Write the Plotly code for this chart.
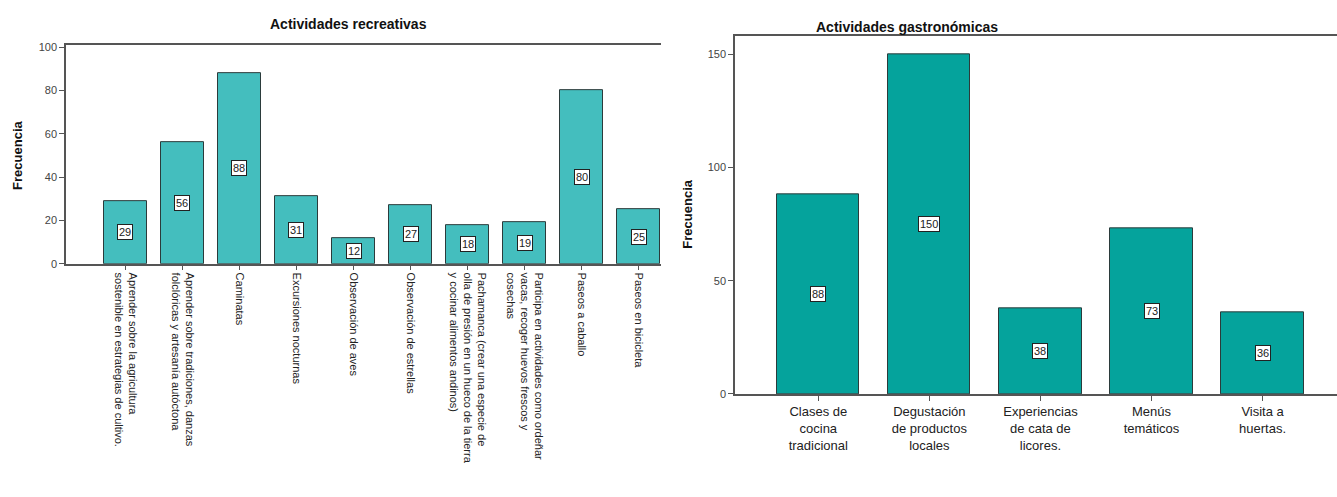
import plotly.graph_objects as go

W, H = 1337, 497

# Actividades recreativas
rec_labels = [
    "Aprender sobre la agricultura<br>sostenible en estrategias de cultivo.",
    "Aprender sobre tradiciones, danzas<br>folclóricas y artesanía autóctona",
    "Caminatas",
    "Excursiones nocturnas",
    "Observación de aves",
    "Observación de estrellas",
    "Pachamanca (crear una especie de<br>olla de presión en un hueco de la tierra<br>y cocinar alimentos andinos)",
    "Participa en actividades como ordeñar<br>vacas, recoger huevos frescos y<br>cosechas",
    "Paseos a caballo",
    "Paseos en bicicleta",
]
rec_values = [29, 56, 88, 31, 12, 27, 18, 19, 80, 25]

# Actividades gastronómicas
gas_labels = [
    "Clases de<br>cocina<br>tradicional",
    "Degustación<br>de productos<br>locales",
    "Experiencias<br>de cata de<br>licores.",
    "Menús<br>temáticos",
    "Visita a<br>huertas.",
]
gas_values = [88, 150, 38, 73, 36]


def px_x(p):
    return p / W


def px_y(p):
    return 1 - p / H


FONT = "Liberation Sans, Arial, sans-serif"
AX = "#555555"

fig = go.Figure()
fig.add_trace(go.Bar(
    x=list(range(len(rec_values))), y=rec_values, width=0.75,
    marker=dict(color="#44BEBE", line=dict(color="#2b3b3b", width=1)),
    xaxis="x", yaxis="y", showlegend=False, hoverinfo="skip",
))
fig.add_trace(go.Bar(
    x=list(range(len(gas_values))), y=gas_values, width=0.74,
    marker=dict(color="#05A39C", line=dict(color="#2b3b3b", width=1)),
    xaxis="x2", yaxis="y2", showlegend=False, hoverinfo="skip",
))

annotations = []
for i, v in enumerate(rec_values):
    annotations.append(dict(
        x=i, y=v / 2, xref="x", yref="y", text=str(v), showarrow=False,
        font=dict(family=FONT, size=11, color="#222"),
        bgcolor="white", bordercolor="#222", borderwidth=1, borderpad=1,
    ))
for i, v in enumerate(gas_values):
    annotations.append(dict(
        x=i, y=v / 2, xref="x2", yref="y2", text=str(v), showarrow=False,
        font=dict(family=FONT, size=11, color="#222"),
        bgcolor="white", bordercolor="#222", borderwidth=1, borderpad=1,
    ))

annotations += [
    dict(x=px_x(348), y=px_y(20), xref="paper", yref="paper",
         xanchor="center", yanchor="middle",
         text="<b>Actividades recreativas</b>", showarrow=False,
         font=dict(family=FONT, size=14, color="#111")),
    dict(x=px_x(907), y=px_y(23), xref="paper", yref="paper",
         xanchor="center", yanchor="middle",
         text="<b>Actividades gastronómicas</b>", showarrow=False,
         font=dict(family=FONT, size=14, color="#111")),
    dict(x=px_x(18), y=px_y(155), xref="paper", yref="paper",
         xanchor="center", yanchor="middle",
         text="<b>Frecuencia</b>", textangle=-90, showarrow=False,
         font=dict(family=FONT, size=13, color="#111")),
    dict(x=px_x(688), y=px_y(215), xref="paper", yref="paper",
         xanchor="center", yanchor="middle",
         text="<b>Frecuencia</b>", textangle=-90, showarrow=False,
         font=dict(family=FONT, size=13, color="#111")),
]

fig.update_layout(
    width=W, height=H,
    margin=dict(l=0, r=0, t=0, b=0),
    paper_bgcolor="white", plot_bgcolor="white",
    font=dict(family=FONT, color="#222"),
    bargap=0,
    annotations=annotations,
    xaxis=dict(
        domain=[px_x(66), px_x(661)], range=[-1.04, 9.39],
        tickmode="array", tickvals=list(range(len(rec_labels))), ticktext=rec_labels,
        tickangle=90, tickfont=dict(family=FONT, size=11, color="#222"),
        ticks="outside", ticklen=5, tickcolor=AX,
        showline=True, linecolor=AX, linewidth=1.5, mirror=True,
        showgrid=False, zeroline=False, fixedrange=True,
    ),
    yaxis=dict(
        domain=[px_y(265), px_y(42)], range=[0, 101],
        tickvals=[0, 20, 40, 60, 80, 100],
        tickfont=dict(family=FONT, size=11, color="#444"),
        ticks="outside", ticklen=5, tickcolor=AX,
        showline=True, linecolor=AX, linewidth=1.5,
        showgrid=False, zeroline=False, fixedrange=True,
    ),
    xaxis2=dict(
        domain=[px_x(735), 1.0], range=[-0.75, 4.67], anchor="y2",
        tickmode="array", tickvals=list(range(len(gas_labels))), ticktext=gas_labels,
        tickangle=0, tickfont=dict(family=FONT, size=13, color="#222"),
        ticks="outside", ticklen=5, tickcolor=AX,
        showline=True, linecolor=AX, linewidth=1.5, mirror=True,
        showgrid=False, zeroline=False, fixedrange=True,
    ),
    yaxis2=dict(
        domain=[px_y(398), px_y(33)], range=[0, 158], anchor="x2",
        tickvals=[0, 50, 100, 150],
        tickfont=dict(family=FONT, size=11, color="#444"),
        ticks="outside", ticklen=5, tickcolor=AX,
        showline=True, linecolor=AX, linewidth=1.5,
        showgrid=False, zeroline=False, fixedrange=True,
    ),
)

fig.write_html("out.html", config={"displayModeBar": False})
